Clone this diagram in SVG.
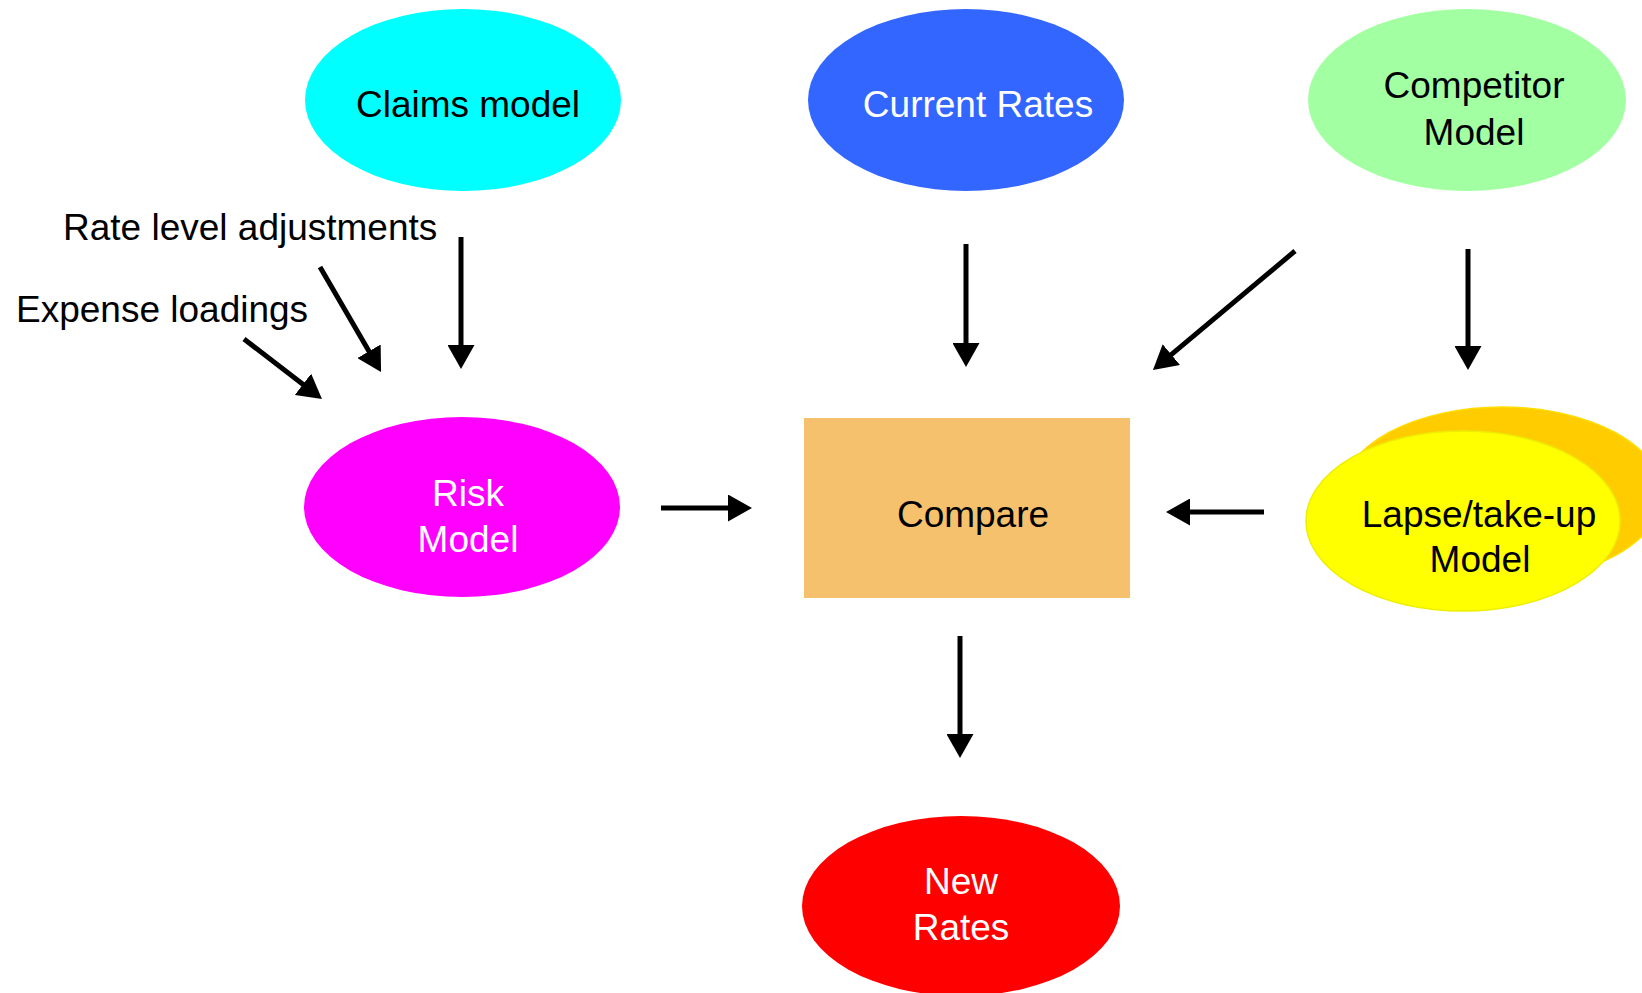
<svg xmlns="http://www.w3.org/2000/svg" width="1642" height="993" viewBox="0 0 1642 993">
  <style>
    text { font-family: "Liberation Sans", Arial, sans-serif; font-size: 37px; }
    .dark { fill: #000000; }
    .light { fill: #ffffff; }
    .mid { text-anchor: middle; }
    .edge { stroke: #000000; stroke-width: 5; fill: none; marker-end: url(#head); }
  </style>
  <defs>
    <marker id="head" markerUnits="userSpaceOnUse" markerWidth="24" markerHeight="27" refX="4" refY="13.5" orient="auto" viewBox="0 0 24 27">
      <path d="M0,0 L24,13.5 L0,27 Z" fill="#000000"/>
    </marker>
  </defs>
  <rect width="1642" height="993" fill="#ffffff"/>

  <g id="claims-model">
    <ellipse cx="463" cy="100" rx="158" ry="91" fill="#00ffff"/>
    <text class="dark mid" x="468" y="117">Claims model</text>
  </g>

  <g id="current-rates">
    <ellipse cx="966" cy="100" rx="158" ry="91" fill="#3366ff"/>
    <text class="light mid" x="978" y="117">Current Rates</text>
  </g>

  <g id="competitor-model">
    <ellipse cx="1467" cy="100" rx="159" ry="91" fill="#a2ffa2"/>
    <text class="dark mid" x="1474" y="98">Competitor</text>
    <text class="dark mid" x="1474" y="145">Model</text>
  </g>

  <g id="rate-level-adjustments">
    <text class="dark" x="63" y="240">Rate level adjustments</text>
  </g>

  <g id="expense-loadings">
    <text class="dark" x="16" y="322">Expense loadings</text>
  </g>

  <g id="risk-model">
    <ellipse cx="462" cy="507" rx="158" ry="90" fill="#ff00ff"/>
    <text class="light mid" x="468" y="506">Risk</text>
    <text class="light mid" x="468" y="552">Model</text>
  </g>

  <g id="compare">
    <rect x="804" y="418" width="326" height="180" fill="#f5c16c"/>
    <text class="dark mid" x="973" y="527">Compare</text>
  </g>

  <g id="lapse-model">
    <ellipse cx="1502" cy="494" rx="160" ry="87" fill="#ffcc00" stroke="#ffdd00" stroke-width="1.5"/>
    <ellipse cx="1463" cy="521" rx="157" ry="90" fill="#ffff00" stroke="#eeee00" stroke-width="1.5"/>
    <text class="dark mid" x="1479" y="527">Lapse/take-up</text>
    <text class="dark mid" x="1480" y="572">Model</text>
  </g>

  <g id="new-rates">
    <ellipse cx="961" cy="906" rx="159" ry="90" fill="#ff0000"/>
    <text class="light mid" x="961" y="894">New</text>
    <text class="light mid" x="961" y="940">Rates</text>
  </g>

  <g id="connectors">
    <line class="edge" x1="461" y1="237" x2="461" y2="349"/>
    <line class="edge" x1="320" y1="267" x2="371" y2="354.7"/>
    <line class="edge" x1="244" y1="339" x2="306.1" y2="386.8"/>
    <line class="edge" x1="966" y1="244" x2="966" y2="347"/>
    <line class="edge" x1="1295" y1="251" x2="1168.3" y2="357.2"/>
    <line class="edge" x1="1468" y1="249" x2="1468" y2="350"/>
    <line class="edge" x1="661" y1="508" x2="732" y2="508"/>
    <line class="edge" x1="1264" y1="512" x2="1186" y2="512"/>
    <line class="edge" x1="960" y1="636" x2="960" y2="738"/>
  </g>
</svg>
